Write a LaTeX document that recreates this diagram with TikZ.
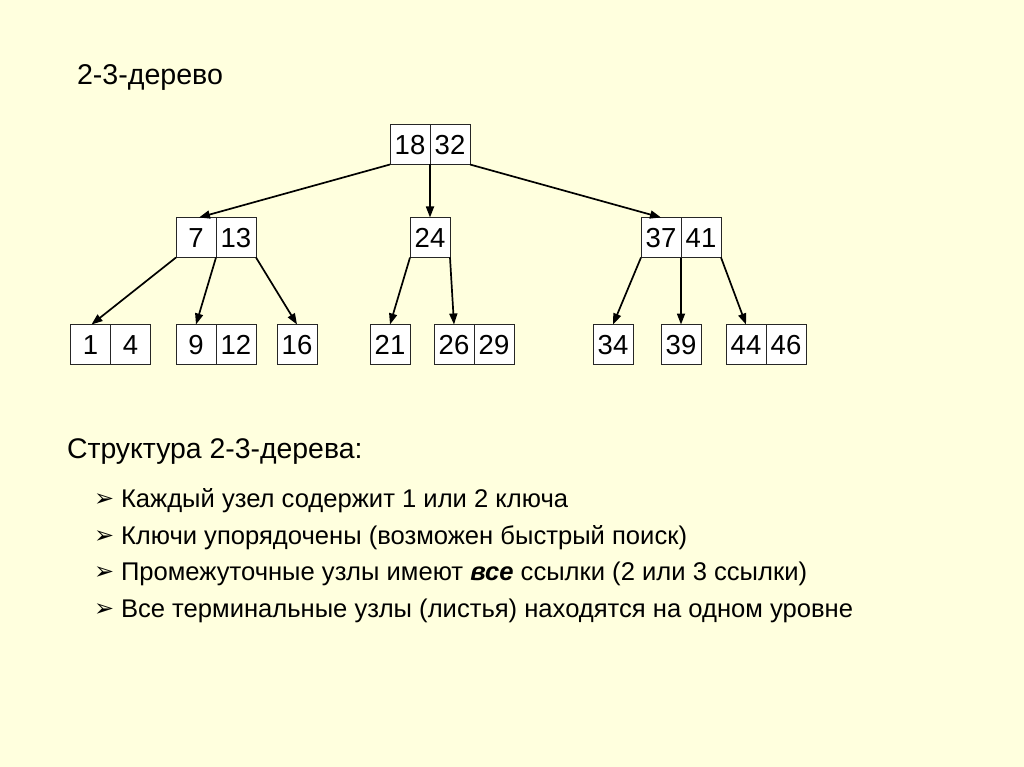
\documentclass[tikz,border=0pt]{standalone}
\usepackage{fontspec}
\setmainfont{Liberation Sans}
\newfontfamily\dejavu{DejaVu Sans}
\usetikzlibrary{arrows.meta}
\definecolor{bgyellow}{RGB}{255,255,222}
\begin{document}
\begin{tikzpicture}[x=1pt,y=-1pt,
  cell/.style={draw=black!85, fill=white, line width=1pt, minimum width=40pt, minimum height=40pt, text height=19.7pt, text depth=0pt, inner sep=0pt, outer sep=0pt, font=\fontsize{27.5}{30}\selectfont},
  link/.style={line width=1.7pt, -{Triangle[length=11pt,width=8pt]}},
  txt/.style={anchor=base west, inner sep=0pt, outer sep=0pt},
  bullet/.style={txt, font=\fontsize{25.6}{29}\selectfont},
  bmark/.style={txt, font=\dejavu\fontsize{24}{28}\selectfont}]
\fill[bgyellow] (0,0) rectangle (1024,767);
\useasboundingbox (0,0) rectangle (1024,767);

\node[txt, font=\fontsize{28.6}{32}\selectfont] (title) at (77,85) {2-3-дерево};

% root
\node[cell] (r1) at (410,144.5) {18};
\node[cell] (r2) at (450,144.5) {32};
% level 2
\node[cell] (a1) at (196,237.5) {7};
\node[cell] (a2) at (236,237.5) {13};
\node[cell] (b1) at (430,237.5) {24};
\node[cell] (c1) at (661,237.5) {37};
\node[cell] (c2) at (701,237.5) {41};
% leaves
\node[cell] (l1) at (90.5,344.5) {1};
\node[cell] (l1b) at (130.5,344.5) {4};
\node[cell] (l2) at (196,344.5) {9};
\node[cell] (l2b) at (236,344.5) {12};
\node[cell] (l3) at (297,344.5) {16};
\node[cell] (l4) at (390,344.5) {21};
\node[cell] (l5) at (454,344.5) {26};
\node[cell] (l5b) at (494,344.5) {29};
\node[cell] (l6) at (613,344.5) {34};
\node[cell] (l7) at (681,344.5) {39};
\node[cell] (l8) at (746,344.5) {44};
\node[cell] (l8b) at (786,344.5) {46};

% links
\draw[link] (r1.south west) -- ([xshift=3pt]a1.north);
\draw[link] (r1.south east) -- (b1.north);
\draw[link] (r2.south east) -- (c1.north);
\draw[link] (a1.south west) -- ([xshift=1pt]l1.north);
\draw[link] (a1.south east) -- (l2.north);
\draw[link] (a2.south east) -- (l3.north);
\draw[link] (b1.south west) -- (l4.north);
\draw[link] (b1.south east) -- (l5.north);
\draw[link] (c1.south west) -- (l6.north);
\draw[link] (c1.south east) -- (l7.north);
\draw[link] (c2.south east) -- (l8.north);

\node[txt, font=\fontsize{28.4}{32}\selectfont] (head) at (67,458) {Структура 2-3-дерева:};

\node[bmark] (m1) at (94,506) {➢};
\node[bullet] (t1) at (121,507) {Каждый узел содержит 1 или 2 ключа};
\node[bmark] (m2) at (94,543) {➢};
\node[bullet] (t2) at (121,544) {Ключи упорядочены (возможен быстрый поиск)};
\node[bmark] (m3) at (94,579.5) {➢};
\node[bullet] (t3) at (121,580.5) {Промежуточные узлы имеют \textbf{\textit{все}} ссылки (2 или 3 ссылки)};
\node[bmark] (m4) at (94,616) {➢};
\node[bullet] (t4) at (121,617) {Все терминальные узлы (листья) находятся на одном уровне};
\end{tikzpicture}
\end{document}
